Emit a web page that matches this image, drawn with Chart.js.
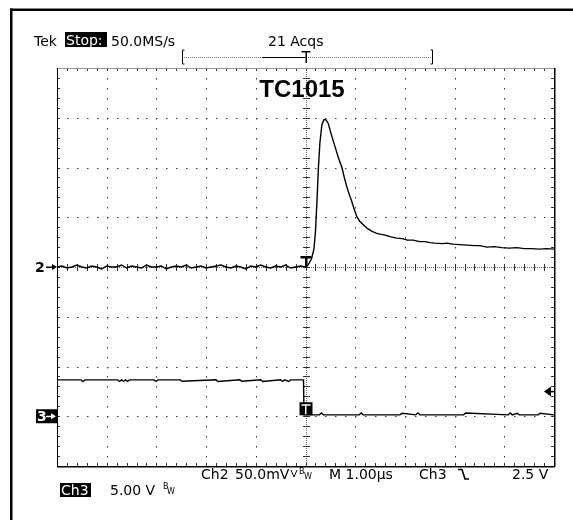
<!DOCTYPE html>
<html><head><meta charset="utf-8">
<script src="https://cdn.jsdelivr.net/npm/chart.js@4/dist/chart.umd.min.js"></script>
<style>html,body{margin:0;padding:0;background:#fff;}canvas{display:block;}</style>
</head><body>
<canvas id="c" width="573" height="520"></canvas>
<script>
// ---- data (time in µs, Ch2 in mV, Ch3 in V) ----
const ch2Time = [-5.0,-4.9,-4.8,-4.7,-4.6,-4.5,-4.4,-4.3,-4.2,-4.1,-4.0,-3.9,-3.8,-3.7,-3.6,-3.5,-3.4,-3.3,-3.2,-3.1,-3.0,-2.9,-2.8,-2.7,-2.6,-2.5,-2.4,-2.3,-2.2,-2.1,-2.0,-1.9,-1.8,-1.7,-1.6,-1.5,-1.4,-1.3,-1.2,-1.1,-1.0,-0.9,-0.8,-0.7,-0.6,-0.5,-0.4,-0.3,-0.2,-0.1,0.0,
  0.05,0.12,0.17,0.2,0.23,0.26,0.29,0.33,0.37,0.41,0.46,0.52,0.594,0.66,0.733,0.78,0.829,0.88,0.93,0.98,1.03,1.09,1.163,1.25,1.332,1.42,1.5,1.6,1.7,1.835,1.95,2.05,2.163,2.3,2.4,2.505,2.6,2.75,2.85,2.968,3.1,3.25,3.4,3.51,3.65,3.8,3.95,4.1,4.25,4.4,4.55,4.7,4.85,5.0];
const ch2mV = [0,1,-1,0,2,0,-1,1,0,-2,1,0,0,2,-1,1,0,-1,2,0,0,1,-2,0,1,0,2,-1,0,1,-1,0,1,2,0,-1,1,0,-2,1,0,2,0,-1,1,0,2,-1,0,1,0,
  2,8,18,35,65,100,125,143,148,148,144,133,121,110,100,90,81,73,66,58,51,46,42.5,38.5,36,34,33,32,30.5,29,28.5,27,27,25.5,25.5,24.5,24,23.5,24,23,22.5,22,21.5,21.5,20,20.5,19.5,19,19.5,18.5,18.5,18,18.5,18];
const ch3Time = [-5.0,-4.52,-4.48,-4.44,-4.4,-3.78,-3.74,-3.7,-3.66,-3.62,-3.58,-3.54,-3.05,-3.01,-2.97,-2.52,-2.48,-1.8,-1.76,-1.32,-1.28,-0.9,-0.86,-0.5,-0.46,-0.42,-0.34,-0.3,-0.04,-0.03,
  0.14,0.28,0.32,0.36,1.08,1.12,1.16,1.9,1.94,2.22,2.26,2.3,3.18,3.22,4.08,4.12,4.16,4.26,4.3,4.68,4.72,5.0];
const ch3V = [3.66,3.66,3.48,3.66,3.66,3.66,3.5,3.66,3.52,3.66,3.5,3.66,3.66,3.5,3.66,3.66,3.52,3.66,3.5,3.66,3.52,3.66,3.5,3.66,3.5,3.66,3.5,3.66,3.66,0.14,
  0.14,0.14,0.32,0.14,0.14,0.32,0.14,0.14,0.3,0.14,0.34,0.14,0.14,0.32,0.14,0.32,0.14,0.3,0.14,0.14,0.3,0.14];
const xRange = [-5, 5];          // 1.00 µs/div
const ch2Range = [-200, 200];    // 50.0 mV/div, ground at centre
const ch3Range = [-5, 35];       // 5.00 V/div, ground 3 div below centre
const trigLevel = 2.5;           // V on Ch3
const headerTexts = ['Tek', 'Stop:', '50.0MS/s', '21 Acqs'];
const titleText = 'TC1015';
const footerTexts = ['Ch2', '50.0mV', 'M 1.00µs', 'Ch3', '2.5 V', 'Ch3', '5.00 V'];

const pts = (t, v) => t.map((x, i) => ({x, y: v[i]}));

const scope = {
  id: 'scope',
  beforeDraw(chart) {
    const {ctx} = chart;
    ctx.save();
    ctx.fillStyle = '#fff';
    ctx.fillRect(0, 0, chart.width, chart.height);
    ctx.fillStyle = '#000';
    ctx.fillRect(10, 8.5, 563, 2.5);
    ctx.fillRect(10, 8.5, 2.5, 512);
    ctx.restore();
  },
  beforeDatasetsDraw(chart) {
    const {ctx, chartArea: a} = chart;
    const L = Math.round(a.left), R = Math.round(a.right), T = Math.round(a.top), B = Math.round(a.bottom);
    const dx = (R - L) / 10, dy = (B - T) / 8;
    ctx.save();
    ctx.fillStyle = '#333';
    // dotted graticule lines
    for (let i = 1; i < 10; i++) {
      if (i === 5) continue;
      const x = Math.round(L + i * dx);
      for (let j = 1; j < 40; j++) ctx.fillRect(x, Math.round(T + j * dy / 5), 1, 1.5);
    }
    for (let i = 1; i < 8; i++) {
      if (i === 4) continue;
      const y = Math.round(T + i * dy);
      for (let j = 1; j < 50; j++) ctx.fillRect(Math.round(L + j * dx / 5), y, 1.5, 1);
    }
    // centre cross
    const cx = Math.round(L + 5 * dx), cy = Math.round(T + 4 * dy);
    ctx.fillStyle = '#666';
    for (let y = T; y < B; y += 2) ctx.fillRect(cx, y, 1, 1);
    for (let x = L; x < R; x += 2) ctx.fillRect(x, cy, 1, 1);
    ctx.fillStyle = '#333';
    for (let j = 1; j < 40; j++) ctx.fillRect(cx - 3, Math.round(T + j * dy / 5), 7, 1);
    for (let j = 1; j < 50; j++) ctx.fillRect(Math.round(L + j * dx / 5), cy - 3, 1, 7);
    // frame ticks
    for (let j = 1; j < 50; j++) {
      const x = Math.round(L + j * dx / 5);
      ctx.fillRect(x, T, 1, 3);
      ctx.fillRect(x, B - 3, 1, 3);
    }
    for (let j = 1; j < 40; j++) {
      const y = Math.round(T + j * dy / 5);
      ctx.fillRect(L, y, 3, 1);
      ctx.fillRect(R - 3, y, 3, 1);
    }
    // frame
    ctx.fillStyle = '#999';
    ctx.fillRect(L, T, R - L, 1);
    ctx.fillStyle = '#000';
    ctx.fillRect(L, T, 1, B - T + 1);
    ctx.fillRect(R, T, 1.5, B - T + 1);
    ctx.fillRect(L, B, R - L + 1, 1.5);
    ctx.restore();
  },
  afterDraw(chart) {
    const {ctx, scales} = chart;
    const a = chart.chartArea;
    const tx = scales.x.getPixelForValue(0);
    const g2 = scales.y.getPixelForValue(0);
    const g3 = scales.y3.getPixelForValue(0);
    const tl = scales.y3.getPixelForValue(trigLevel);
    ctx.save();
    ctx.fillStyle = '#000';
    ctx.strokeStyle = '#000';
    ctx.textBaseline = 'alphabetic';
    // header
    ctx.font = '14px "DejaVu Sans"';
    ctx.fillText(headerTexts[0], 34, 45.5);
    ctx.fillRect(65, 32, 42, 15);
    ctx.fillStyle = '#fff';
    ctx.fillText(headerTexts[1], 66, 45);
    ctx.fillStyle = '#000';
    ctx.fillText(headerTexts[2], 111, 45.5);
    ctx.fillText(headerTexts[3], 268, 45.5);
    // record bracket
    ctx.lineWidth = 1;
    ctx.beginPath();
    ctx.moveTo(184.5, 50); ctx.lineTo(182.5, 50); ctx.lineTo(182.5, 64); ctx.lineTo(184.5, 64);
    ctx.moveTo(430.5, 50); ctx.lineTo(432.5, 50); ctx.lineTo(432.5, 64); ctx.lineTo(430.5, 64);
    ctx.stroke();
    ctx.fillStyle = '#777';
    for (let x = 184; x < 431; x += 2) ctx.fillRect(x, 57, 1, 1);
    ctx.fillStyle = '#000';
    ctx.fillRect(262, 57, tx - 262, 1);
    ctx.fillRect(tx - 4, 51, 9, 1.5);
    ctx.fillRect(tx, 51, 1.5, 12);
    // title
    ctx.font = 'bold 24px "Liberation Sans"';
    ctx.textAlign = 'center';
    ctx.fillText(titleText, 302, 97);
    ctx.textAlign = 'left';
    // ground markers
    ctx.font = 'bold 14px "DejaVu Sans"';
    ctx.fillText('2', 35, g2 + 5);
    ctx.fillRect(46, g2 - 0.5, 9, 1.5);
    ctx.beginPath(); ctx.moveTo(57, g2); ctx.lineTo(52, g2 - 3); ctx.lineTo(52, g2 + 3); ctx.closePath(); ctx.fill();
    ctx.fillRect(36, g3 - 7, 21, 14);
    ctx.fillStyle = '#fff';
    ctx.fillText('3', 37, g3 + 5);
    ctx.fillRect(46, g3 - 0.5, 8, 1.5);
    ctx.beginPath(); ctx.moveTo(56, g3); ctx.lineTo(51, g3 - 3); ctx.lineTo(51, g3 + 3); ctx.closePath(); ctx.fill();
    ctx.fillStyle = '#000';
    // trigger marks
    ctx.fillRect(tx - 5, g2 - 11, 11, 2.5);
    ctx.fillRect(tx - 0.5, g2 - 11, 2.5, 11);
    ctx.fillRect(tx - 6, g3 - 14, 13, 13);
    ctx.fillStyle = '#fff';
    ctx.fillRect(tx - 4, g3 - 12, 9, 1.5);
    ctx.fillRect(tx - 0.5, g3 - 12, 1.5, 10);
    ctx.fillStyle = '#000';
    // trigger level arrow
    ctx.beginPath(); ctx.moveTo(a.right - 10, tl); ctx.lineTo(a.right - 3, tl - 5); ctx.lineTo(a.right - 3, tl + 5); ctx.closePath(); ctx.fill();
    ctx.fillRect(a.right - 4, tl - 0.5, 4, 1.5);
    // footer
    ctx.font = '14px "DejaVu Sans"';
    ctx.fillText(footerTexts[0], 201, 479);
    ctx.fillText(footerTexts[1], 235, 479);
    ctx.lineWidth = 1;
    ctx.beginPath();
    ctx.moveTo(291, 470); ctx.lineTo(294, 477); ctx.lineTo(297, 470);
    ctx.stroke();
    ctx.font = '8px "DejaVu Sans"';
    ctx.fillText('B', 299, 474); ctx.fillText('W', 304, 479);
    ctx.font = '14px "DejaVu Sans"';
    ctx.fillText(footerTexts[2], 329, 479);
    ctx.fillText(footerTexts[3], 419, 479);
    ctx.lineWidth = 1.6;
    ctx.beginPath();
    ctx.moveTo(458, 469.5); ctx.lineTo(462, 469.5); ctx.lineTo(465, 479); ctx.lineTo(469, 479);
    ctx.stroke();
    ctx.fillText(footerTexts[4], 512, 479);
    ctx.fillRect(60, 483, 31, 14);
    ctx.fillStyle = '#fff';
    ctx.fillText(footerTexts[5], 61, 495);
    ctx.fillStyle = '#000';
    ctx.fillText(footerTexts[6], 110, 495);
    ctx.font = '8px "DejaVu Sans"';
    ctx.fillText('B', 163, 489); ctx.fillText('W', 167, 494);
    ctx.restore();
  }
};

new Chart(document.getElementById('c'), {
  type: 'line',
  data: {
    datasets: [
      {label: 'Ch2', data: pts(ch2Time, ch2mV), yAxisID: 'y', borderColor: '#000', borderWidth: 1.4, pointRadius: 0, tension: 0},
      {label: 'Ch3', data: pts(ch3Time, ch3V), yAxisID: 'y3', borderColor: '#000', borderWidth: 1.4, pointRadius: 0, tension: 0}
    ]
  },
  options: {
    responsive: false, animation: false, devicePixelRatio: 1,
    layout: {padding: {left: 57, right: 19, top: 68, bottom: 54}},
    plugins: {legend: {display: false}, tooltip: {enabled: false}},
    scales: {
      x: {type: 'linear', min: xRange[0], max: xRange[1], display: false},
      y: {min: ch2Range[0], max: ch2Range[1], display: false},
      y3: {min: ch3Range[0], max: ch3Range[1], display: false}
    }
  },
  plugins: [scope]
});
</script>
</body></html>
